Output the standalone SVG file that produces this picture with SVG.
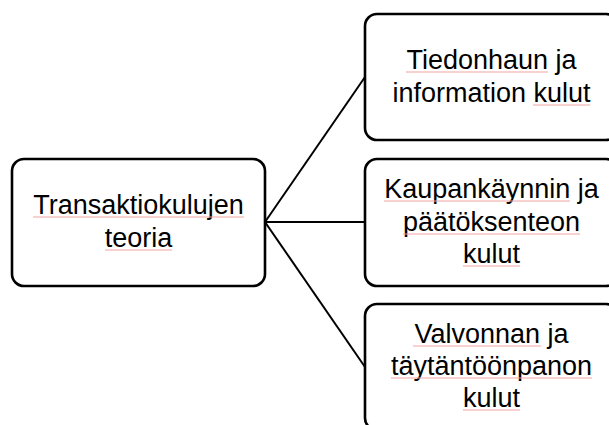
<svg xmlns="http://www.w3.org/2000/svg" width="609" height="425" viewBox="0 0 609 425">
<style>
.box{fill:#fff;stroke:#000;stroke-width:2.6}
.conn{stroke:#000;stroke-width:2;fill:none}
.lbl{font-family:"Liberation Sans",Arial,sans-serif;font-size:27px;fill:#000;text-anchor:middle}
.sq{stroke:#f2a3a3;stroke-width:1;fill:none}
</style>
<rect width="609" height="425" fill="#fff"/>
<g id="connectors">
<line class="conn" x1="265" y1="222" x2="365" y2="77"/>
<line class="conn" x1="265" y1="222" x2="365" y2="222"/>
<line class="conn" x1="265" y1="222" x2="365" y2="367"/>
</g>
<g id="node-root">
<rect class="box" x="12" y="159" width="253" height="127" rx="12"/>
<text class="lbl" x="138.5" y="214">Transaktiokulujen</text>
<text class="lbl" x="138.5" y="247">teoria</text>
<path class="sq" d="M33 217H244M105 250H172"/>
</g>
<g id="node-tiedonhaun">
<rect class="box" x="365" y="14" width="253" height="126" rx="12"/>
<text class="lbl" x="491.5" y="69">Tiedonhaun ja</text>
<text class="lbl" x="491.5" y="102">information kulut</text>
<path class="sq" d="M406 72H548M533 105H590"/>
</g>
<g id="node-kaupankaynnin">
<rect class="box" x="365" y="159" width="253" height="127" rx="12"/>
<text class="lbl" x="491.5" y="198">Kaupankäynnin ja</text>
<text class="lbl" x="491.5" y="231">päätöksenteon</text>
<text class="lbl" x="491.5" y="263">kulut</text>
<path class="sq" d="M384 201H570M403 234H580M463 266H520"/>
</g>
<g id="node-valvonnan">
<rect class="box" x="365" y="304" width="253" height="126" rx="12"/>
<text class="lbl" x="491.5" y="343">Valvonnan ja</text>
<text class="lbl" x="491.5" y="375">täytäntöönpanon</text>
<text class="lbl" x="491.5" y="407">kulut</text>
<path class="sq" d="M413 346H541M391 378H592M463 410H520"/>
</g>
</svg>
